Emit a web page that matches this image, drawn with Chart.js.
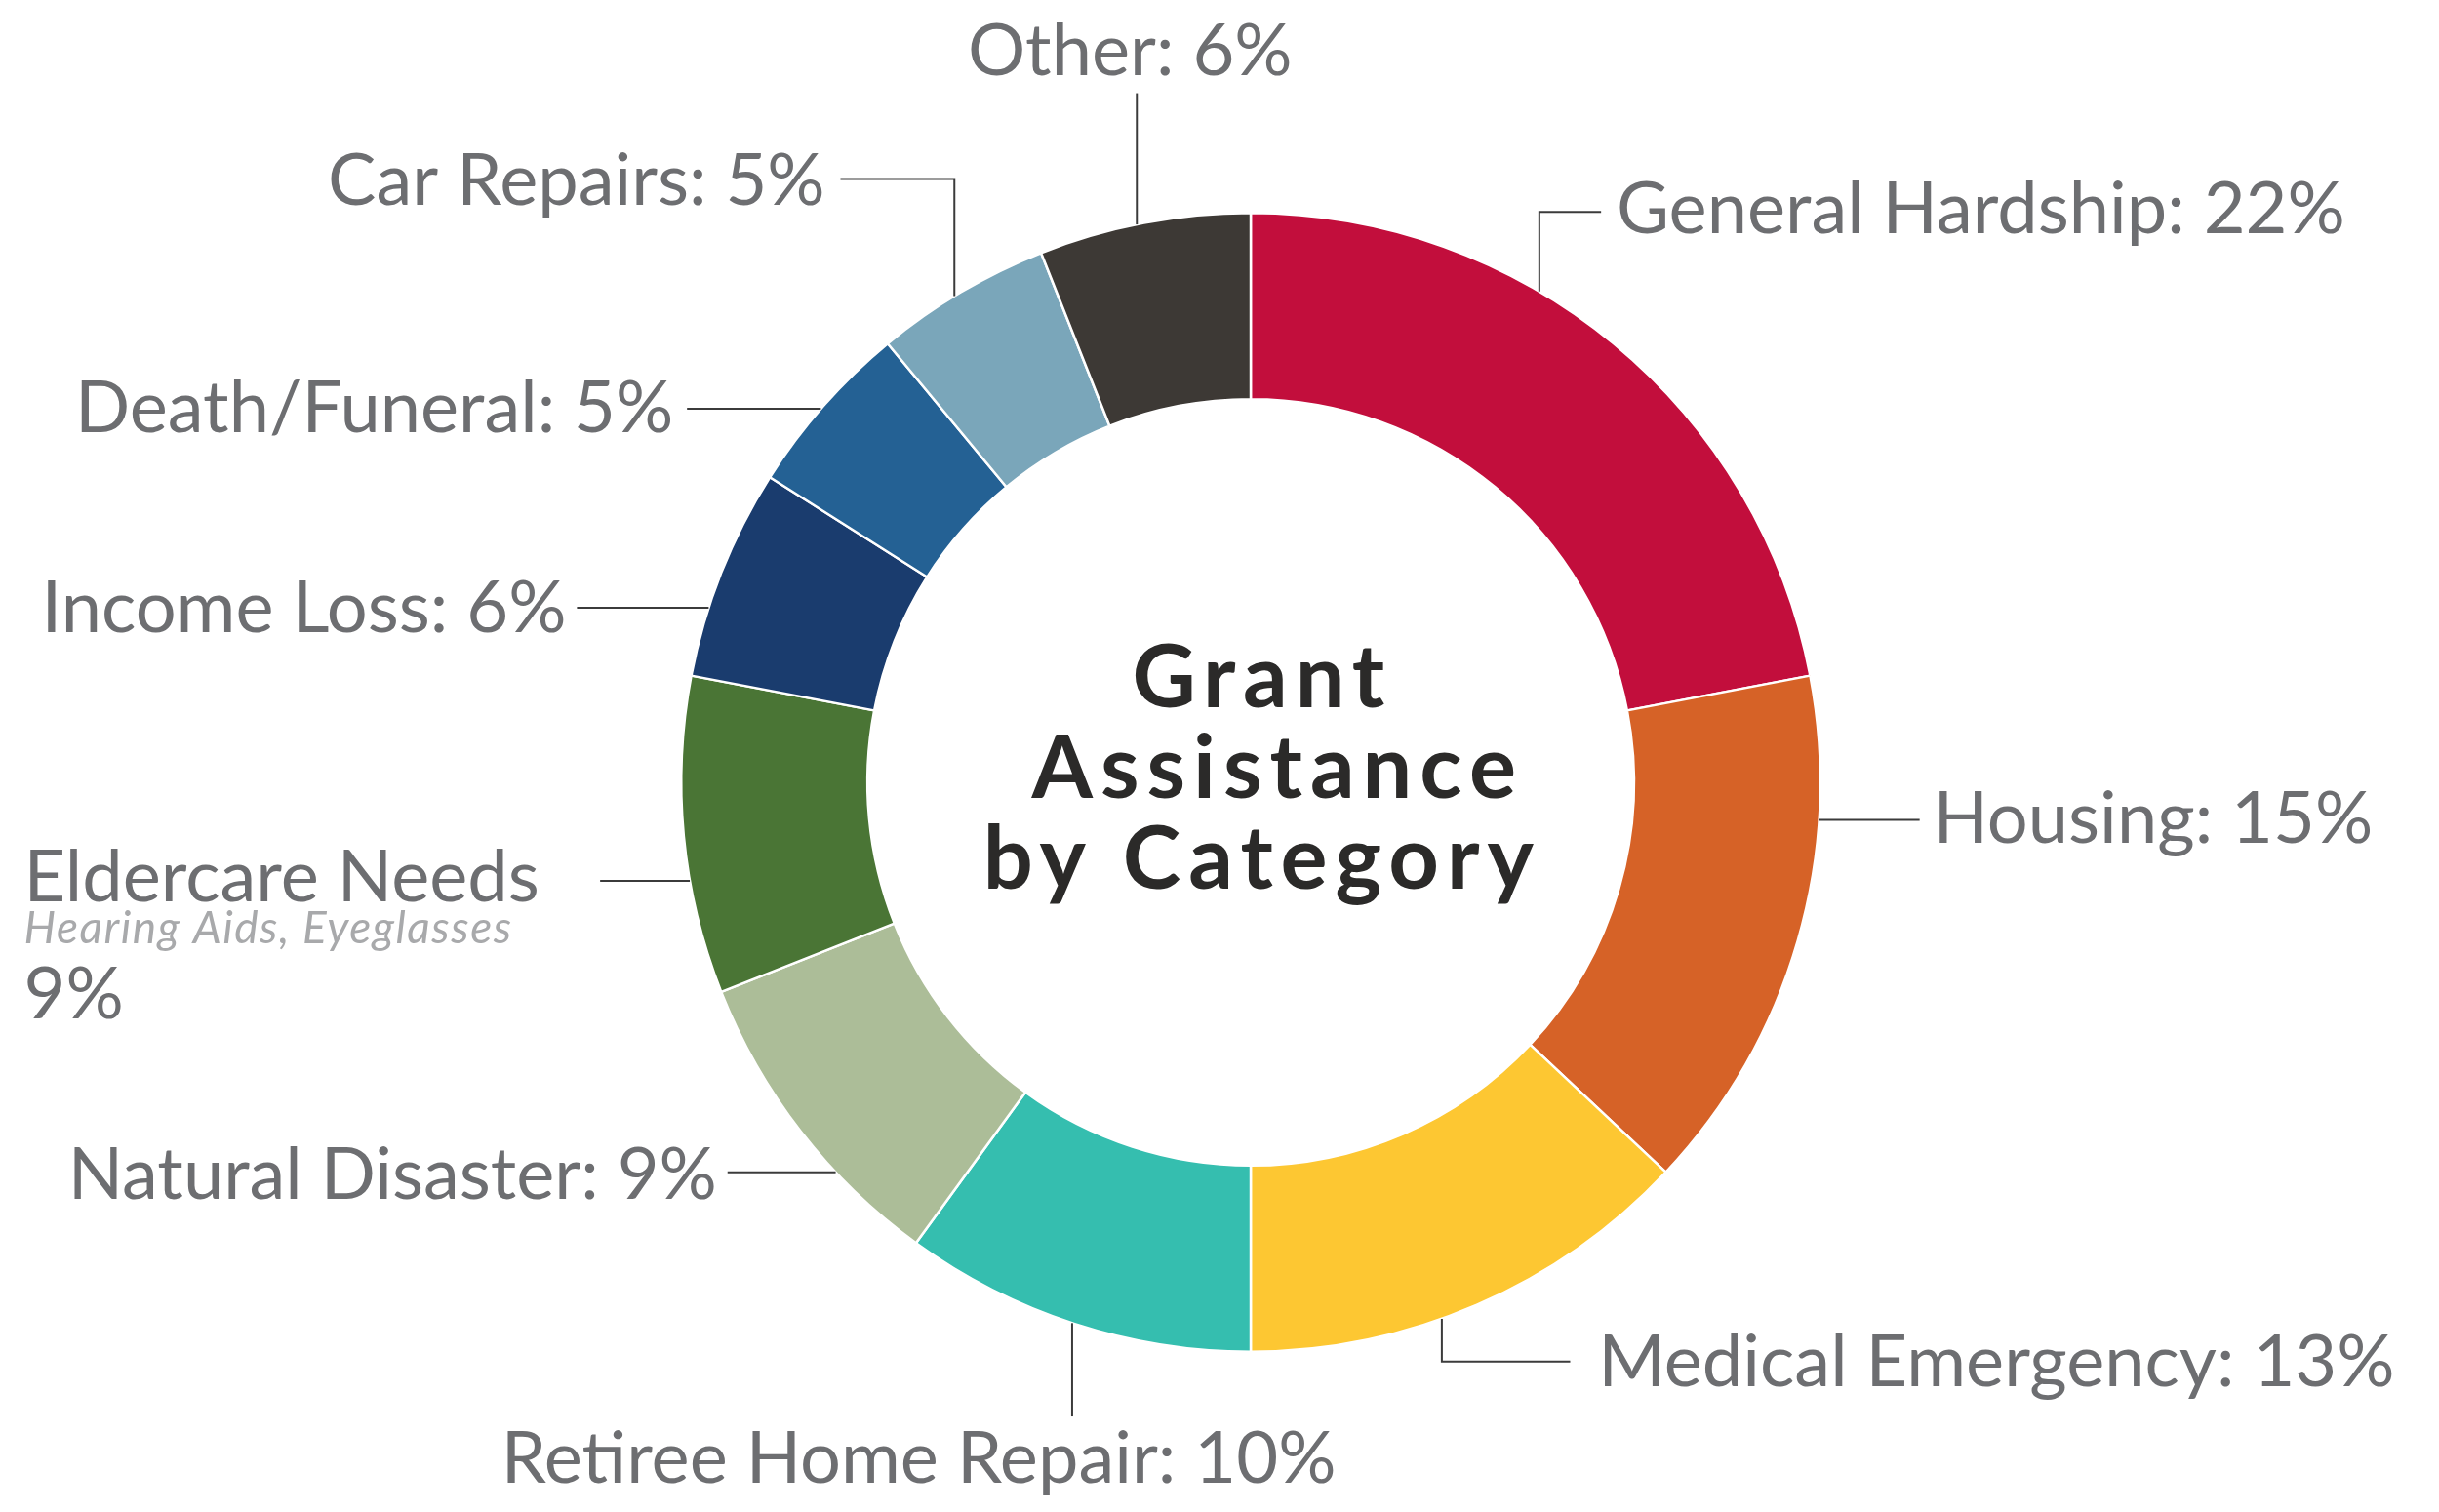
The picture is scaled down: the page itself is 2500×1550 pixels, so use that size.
<!DOCTYPE html>
<html>
<head>
<meta charset="utf-8">
<script src="https://cdn.jsdelivr.net/npm/chart.js@4.4.1/dist/chart.umd.min.js"></script>
<style>
  html, body { margin: 0; padding: 0; background: #ffffff; }
  #wrap { width: 2500px; height: 1550px; position: relative; }
</style>
</head>
<body>
<div id="wrap"><canvas id="c" width="2500" height="1550"></canvas></div>
<script>
// ---- data ----
const categories = [
  "General Hardship", "Housing", "Medical Emergency", "Retiree Home Repair",
  "Natural Disaster", "Eldercare Needs", "Income Loss", "Death/Funeral",
  "Car Repairs", "Other"
];
const shares = [22, 15, 13, 10, 9, 9, 6, 5, 5, 6];
const sliceColors = [
  "#C20E3C", "#D66227", "#FDC732", "#35BEAF", "#ACBD98",
  "#4A7535", "#1A3C6E", "#246194", "#7AA6BA", "#3D3935"
];
const eldercareNote = "Hearing Aids, Eyeglasses";
const centerTitle = ["Grant", "Assistance", "by Category"];

// ---- label layout (offsets from donut centre, in px at R=590) ----
const labelLayout = [
  { align: "left",   tx: 379,   ty: -593, leader: { kind: "v", at: 299,  to: -591, elbow: 363 } },
  { align: "left",   tx: 707,   ty: 39,   leader: { kind: "h", at: 39,   to: 693 } },
  { align: "left",   tx: 360,   ty: 602,  leader: { kind: "v", at: 198,  to: 600,  elbow: 331 } },
  { align: "center", tx: -344,  ty: 702,  leader: { kind: "v", at: -185, to: 657 } },
  { align: "right",  tx: -553,  ty: 407,  leader: { kind: "h", at: 404,  to: -542 } },
  { align: "left",   tx: -1271, ty: 99,   leader: { kind: "h", at: 102,  to: -674 }, multi: true },
  { align: "right",  tx: -709,  ty: -180, leader: { kind: "h", at: -181, to: -698 } },
  { align: "right",  tx: -598,  ty: -387, leader: { kind: "h", at: -387, to: -584 } },
  { align: "right",  tx: -441,  ty: -622, leader: { kind: "v", at: -307, to: -625, elbow: -425 } },
  { align: "center", tx: -125,  ty: -757, leader: { kind: "v", at: -118, to: -714 } }
];
// per-line horizontal nudge of the centre title (px at R=590)
const titleNudge = [12, 28, 12];

const LABEL_FONT = "Lato";
const LABEL_COLOR = "#6D6E71";

const labelPlugin = {
  id: "donutLabels",
  afterDraw(chart) {
    const ctx = chart.ctx;
    const meta = chart.getDatasetMeta(0);
    const arc0 = meta.data[0];
    const cx = arc0.x, cy = arc0.y, R = arc0.outerRadius;
    const k = R / 590;
    ctx.save();

    // leader lines
    ctx.strokeStyle = "#3b3b3b";
    ctx.lineWidth = 2;
    labelLayout.forEach((L) => {
      const ld = L.leader;
      ctx.beginPath();
      if (ld.kind === "v") {
        const ax = ld.at * k;
        const sgn = ld.to < 0 ? -1 : 1;
        const ay = sgn * Math.sqrt(Math.max(R * R - ax * ax, 0));
        ctx.moveTo(cx + ax, cy + ay);
        ctx.lineTo(cx + ax, cy + ld.to * k);
        if (ld.elbow !== undefined) ctx.lineTo(cx + ld.elbow * k, cy + ld.to * k);
      } else {
        const ay = ld.at * k;
        const sgn = ld.to < 0 ? -1 : 1;
        const ax = sgn * Math.sqrt(Math.max(R * R - ay * ay, 0));
        ctx.moveTo(cx + ax, cy + ay);
        ctx.lineTo(cx + ld.to * k, cy + ay);
      }
      ctx.stroke();
    });

    // labels
    const total = shares.reduce((a, b) => a + b, 0);
    ctx.textBaseline = "middle";
    const mainSize = Math.round(75 * k);
    labelLayout.forEach((L, i) => {
      const pct = Math.round(shares[i] / total * 100) + "%";
      const x = cx + L.tx * k, y = cy + L.ty * k;
      ctx.textAlign = L.align;
      ctx.fillStyle = LABEL_COLOR;
      ctx.font = `400 ${mainSize}px ${LABEL_FONT}`;
      if (L.multi) {
        ctx.fillText(categories[i], x, y);
        ctx.fillStyle = "#A8A9AB";
        ctx.font = `italic 400 ${Math.round(46 * k)}px ${LABEL_FONT}`;
        try { ctx.letterSpacing = "1.5px"; } catch (e) {}
        ctx.fillText(eldercareNote, x, y + 53 * k);
        try { ctx.letterSpacing = "0px"; } catch (e) {}
        ctx.fillStyle = LABEL_COLOR;
        ctx.font = `400 ${mainSize}px ${LABEL_FONT}`;
        ctx.fillText(pct, x, y + 121 * k);
      } else {
        ctx.fillText(categories[i] + ": " + pct, x, y);
      }
    });

    // centre title
    ctx.fillStyle = "#2B2A29";
    ctx.font = `700 ${Math.round(91 * k)}px ${LABEL_FONT}`;
    ctx.textAlign = "center";
    try { ctx.letterSpacing = Math.round(8 * k) + "px"; } catch (e) {}
    const lineGap = 94 * k;
    centerTitle.forEach((t, j) => {
      ctx.fillText(t, cx + titleNudge[j] * k, cy + (j - 1) * lineGap - 13 * k);
    });
    ctx.restore();
  }
};

new Chart(document.getElementById("c"), {
  type: "doughnut",
  data: {
    labels: categories,
    datasets: [{
      data: shares,
      backgroundColor: sliceColors,
      borderColor: "#ffffff",
      borderWidth: 2.5,
      hoverOffset: 0
    }]
  },
  options: {
    responsive: false,
    devicePixelRatio: 1,
    animation: false,
    cutout: "67.3%",
    rotation: 0,
    layout: { padding: { top: 217, bottom: 163, left: 64, right: 0 } },
    plugins: {
      legend: { display: false },
      tooltip: { enabled: false }
    }
  },
  plugins: [labelPlugin]
});
</script>
</body>
</html>
